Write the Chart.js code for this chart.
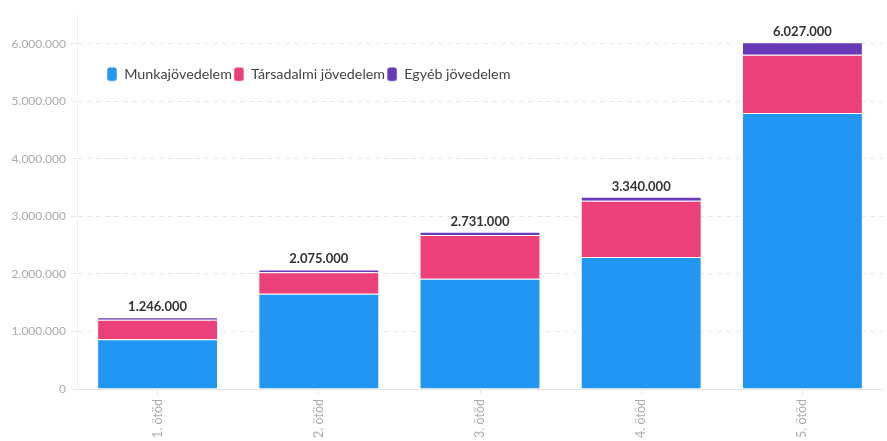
<!DOCTYPE html>
<html>
<head>
<meta charset="utf-8">
<script src="https://cdn.jsdelivr.net/npm/chart.js@4"></script>
<style>
  html, body { margin: 0; padding: 0; background: #fff; }
  #wrap { width: 887px; height: 441px; }
</style>
</head>
<body>
<div id="wrap"><canvas id="c" width="887" height="441"></canvas></div>
<script>
const categories = ['1. ötöd', '2. ötöd', '3. ötöd', '4. ötöd', '5. ötöd'];
const munkajovedelem = [864000, 1657000, 1918000, 2296000, 4795000];
const tarsadalmiJovedelem = [341000, 373000, 757000, 974000, 1014000];
const egyebJovedelem = [41000, 45000, 56000, 70000, 218000];
const yTickValues = [0, 1000000, 2000000, 3000000, 4000000, 5000000, 6000000];
const yMax = 6500000;

const FONT = 'Lato';
function fmt(v) {
  return String(Math.round(v)).replace(/\B(?=(\d{3})+(?!\d))/g, '.');
}

const totalsPlugin = {
  id: 'totals',
  afterDatasetsDraw(chart) {
    const ctx = chart.ctx;
    const n = chart.data.datasets.length;
    const topMeta = chart.getDatasetMeta(n - 1);
    ctx.save();
    ctx.font = 'bold 13px ' + FONT;
    ctx.fillStyle = '#333';
    ctx.textAlign = 'center';
    ctx.textBaseline = 'bottom';
    chart.data.labels.forEach((_, i) => {
      let total = 0;
      chart.data.datasets.forEach(ds => { total += ds.data[i]; });
      const el = topMeta.data[i];
      ctx.fillText(fmt(total), el.x, el.y - 4);
    });
    ctx.restore();
  }
};

const legendInside = {
  id: 'legendInside',
  beforeLayout(chart) {
    if (chart.legend) chart.legend.isHorizontal = () => true;
  },
  afterLayout(chart) {
    if (chart.legend) {
      chart.legend.left = chart.chartArea.left + 28;
      chart.legend.top = chart.chartArea.top + 50;
    }
  }
};

new Chart(document.getElementById('c'), {
  type: 'bar',
  data: {
    labels: categories,
    datasets: [
      { label: 'Munkajövedelem', data: munkajovedelem, backgroundColor: '#2196F3', borderColor: 'rgba(255,255,255,0.45)', borderWidth: 1 },
      { label: 'Társadalmi jövedelem', data: tarsadalmiJovedelem, backgroundColor: '#EC407A', borderColor: 'rgba(255,255,255,0.45)', borderWidth: 1 },
      { label: 'Egyéb jövedelem', data: egyebJovedelem, backgroundColor: '#673AB7', borderColor: 'rgba(255,255,255,0.45)', borderWidth: 1 }
    ]
  },
  options: {
    responsive: false,
    animation: false,
    devicePixelRatio: 1,
    layout: { padding: { top: 15, right: 4, left: 0, bottom: 0 } },
    datasets: { bar: { categoryPercentage: 0.75, barPercentage: 1 } },
    plugins: {
      tooltip: { enabled: false },
      legend: {
        position: 'chartArea',
        align: 'start',
        labels: {
          boxWidth: 10,
          boxHeight: 14,
          useBorderRadius: true,
          borderRadius: 3,
          padding: 2,
          color: '#444',
          font: { family: FONT, size: 14.3 }
        }
      }
    },
    scales: {
      x: {
        stacked: true,
        offset: true,
        grid: { offset: false, drawOnChartArea: false, tickLength: 6, color: '#e6e6e6' },
        border: { color: '#e6e6e6' },
        ticks: { minRotation: 90, maxRotation: 90, color: '#aaa', padding: 4, font: { family: FONT, size: 12.5 } },
        afterFit(scale) { scale.height = 52; }
      },
      y: {
        stacked: true,
        min: 0,
        max: yMax,
        grid: { color: '#e6e6e6', tickLength: 6, tickBorderDash: [5, 4] },
        border: { color: '#eeeeee', dash: [5, 4] },
        ticks: { color: '#aaa', padding: 5, font: { family: FONT, size: 12 }, callback: v => fmt(v) },
        afterBuildTicks(scale) { scale.ticks = yTickValues.map(v => ({ value: v })); },
        afterFit(scale) { scale.width = 77; }
      }
    }
  },
  plugins: [totalsPlugin, legendInside]
});
</script>
</body>
</html>
